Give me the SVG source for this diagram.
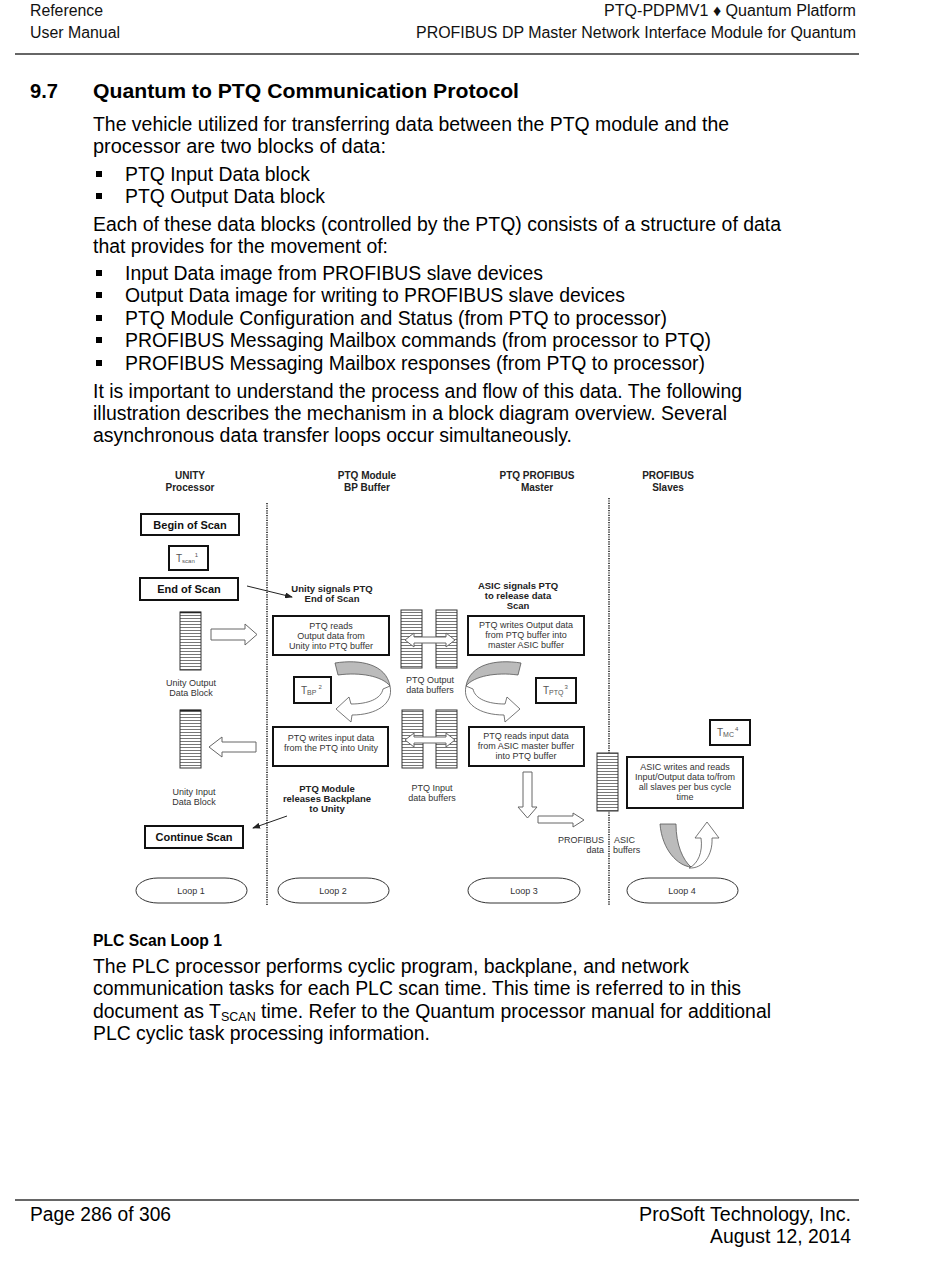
<svg xmlns="http://www.w3.org/2000/svg" width="950" height="1267" viewBox="0 0 950 1267">
<style>
.pg{font-family:"Liberation Sans",Arial,sans-serif;fill:#000}
.hd{font-family:"Liberation Sans",Arial,sans-serif;font-size:16px;fill:#111}
.body{font-family:"Liberation Sans",Arial,sans-serif;font-size:19.4px;fill:#000}
.dh{font-family:"Liberation Sans",Arial,sans-serif;font-size:10px;font-weight:bold;fill:#222;text-anchor:middle}
.bl{font-family:"Liberation Sans",Arial,sans-serif;font-size:9.5px;font-weight:bold;fill:#222;text-anchor:middle}
.bx{font-family:"Liberation Sans",Arial,sans-serif;font-size:9px;fill:#333;text-anchor:middle}
.sb{font-family:"Liberation Sans",Arial,sans-serif;font-size:11px;font-weight:bold;fill:#111;text-anchor:middle}
.tt{font-family:"Liberation Sans",Arial,sans-serif;font-size:10px;fill:#555}
.box{fill:#fff;stroke:#111;stroke-width:2}
.buf{fill:url(#stripes);stroke:#333;stroke-width:1}
.dot{stroke:#222;stroke-width:1.6;stroke-dasharray:1.2 1.2;fill:none}
.hol{fill:#fff;stroke:#666;stroke-width:1}
.loop{fill:#fff;stroke:#333;stroke-width:1}
.thin{stroke:#222;stroke-width:1;fill:none;marker-end:url(#ah)}
.rule{stroke:#333;stroke-width:1.5}
</style>
<defs>
<pattern id="stripes" width="10" height="3" patternUnits="userSpaceOnUse">
<rect width="10" height="3" fill="#fff"/>
<line x1="0" y1="0.5" x2="10" y2="0.5" stroke="#777" stroke-width="1"/>
</pattern>
<marker id="ah" markerWidth="8" markerHeight="6" refX="7" refY="3" orient="auto" markerUnits="userSpaceOnUse">
<path d="M0,0 L8,3 L0,6 Z" fill="#222"/>
</marker>
<g id="curl">
<path d="M335,663 C360,659 386,664 390,686 C382,676 360,672 338,675 Z" fill="#bbb" stroke="#555" stroke-width="0.8"/>
<path d="M390,686 C394,704 376,715 352,715 L351,722 L336,709 L349,697 L351,704 C368,704 381,699 383,689 Z" fill="#fff" stroke="#555" stroke-width="0.8"/>
</g>
</defs>

<!-- page header -->
<g id="header">
<text class="hd" x="30" y="16" textLength="73" lengthAdjust="spacingAndGlyphs">Reference</text>
<text class="hd" x="30" y="38" textLength="90" lengthAdjust="spacingAndGlyphs">User Manual</text>
<text class="hd" x="856" y="16" text-anchor="end" textLength="252" lengthAdjust="spacingAndGlyphs">PTQ-PDPMV1 ♦ Quantum Platform</text>
<text class="hd" x="856" y="38" text-anchor="end" textLength="440" lengthAdjust="spacingAndGlyphs">PROFIBUS DP Master Network Interface Module for Quantum</text>
<line class="rule" x1="15" y1="54" x2="859" y2="54"/>
</g>

<g id="intro">
<text class="pg" x="30" y="98" font-size="21" font-weight="bold" textLength="28" lengthAdjust="spacingAndGlyphs">9.7</text>
<text class="pg" x="93" y="98" font-size="21" font-weight="bold" textLength="426" lengthAdjust="spacingAndGlyphs">Quantum to PTQ Communication Protocol</text>
<text class="body" x="93" y="131" textLength="636" lengthAdjust="spacingAndGlyphs">The vehicle utilized for transferring data between the PTQ module and the</text>
<text class="body" x="93" y="153" textLength="293" lengthAdjust="spacingAndGlyphs">processor are two blocks of data:</text>
<rect x="96" y="171" width="6" height="6" fill="#000"/>
<text class="body" x="125" y="181" textLength="185" lengthAdjust="spacingAndGlyphs">PTQ Input Data block</text>
<rect x="96" y="193" width="6" height="6" fill="#000"/>
<text class="body" x="125" y="203" textLength="200" lengthAdjust="spacingAndGlyphs">PTQ Output Data block</text>
<text class="body" x="93" y="231" textLength="688" lengthAdjust="spacingAndGlyphs">Each of these data blocks (controlled by the PTQ) consists of a structure of data</text>
<text class="body" x="93" y="253" textLength="295" lengthAdjust="spacingAndGlyphs">that provides for the movement of:</text>
<rect x="96" y="270" width="6" height="6" fill="#000"/>
<text class="body" x="125" y="280" textLength="418" lengthAdjust="spacingAndGlyphs">Input Data image from PROFIBUS slave devices</text>
<rect x="96" y="292" width="6" height="6" fill="#000"/>
<text class="body" x="125" y="302" textLength="500" lengthAdjust="spacingAndGlyphs">Output Data image for writing to PROFIBUS slave devices</text>
<rect x="96" y="315" width="6" height="6" fill="#000"/>
<text class="body" x="125" y="325" textLength="542" lengthAdjust="spacingAndGlyphs">PTQ Module Configuration and Status (from PTQ to processor)</text>
<rect x="96" y="337" width="6" height="6" fill="#000"/>
<text class="body" x="125" y="347" textLength="586" lengthAdjust="spacingAndGlyphs">PROFIBUS Messaging Mailbox commands (from processor to PTQ)</text>
<rect x="96" y="360" width="6" height="6" fill="#000"/>
<text class="body" x="125" y="370" textLength="580" lengthAdjust="spacingAndGlyphs">PROFIBUS Messaging Mailbox responses (from PTQ to processor)</text>
<text class="body" x="93" y="398" textLength="649" lengthAdjust="spacingAndGlyphs">It is important to understand the process and flow of this data. The following</text>
<text class="body" x="93" y="420" textLength="634" lengthAdjust="spacingAndGlyphs">illustration describes the mechanism in a block diagram overview. Several</text>
<text class="body" x="93" y="442" textLength="479" lengthAdjust="spacingAndGlyphs">asynchronous data transfer loops occur simultaneously.</text>
</g>

<!-- diagram column headers and separators -->
<g id="columns">
<text class="dh" x="190" y="479">UNITY</text>
<text class="dh" x="190" y="491">Processor</text>
<text class="dh" x="367" y="479">PTQ Module</text>
<text class="dh" x="367" y="491">BP Buffer</text>
<text class="dh" x="537" y="479">PTQ PROFIBUS</text>
<text class="dh" x="537" y="491">Master</text>
<text class="dh" x="668" y="479">PROFIBUS</text>
<text class="dh" x="668" y="491">Slaves</text>
<line class="dot" x1="267" y1="503" x2="267" y2="905"/>
<line class="dot" x1="609" y1="498" x2="609" y2="905"/>
</g>

<!-- Loop 1 -->
<g id="begin-scan"><rect class="box" x="141" y="514" width="98" height="21"/><text class="sb" x="190" y="529">Begin of Scan</text></g>
<g id="tscan"><rect class="box" x="169" y="546" width="39" height="24"/><text class="tt" x="176" y="562">T<tspan font-size="6" dy="1">scan</tspan><tspan font-size="6" dy="-6">1</tspan></text></g>
<g id="end-scan"><rect class="box" x="140" y="578" width="98" height="22"/><text class="sb" x="189" y="593">End of Scan</text></g>
<g id="unity-output"><rect class="buf" x="180" y="612" width="21" height="58"/><line x1="180" y1="612.5" x2="201" y2="612.5" stroke="#222" stroke-width="1.5"/>
<text class="bx" x="191" y="686">Unity Output</text><text class="bx" x="191" y="696">Data Block</text></g>
<g id="unity-input"><rect class="buf" x="180" y="710" width="21" height="58"/><line x1="180" y1="710.5" x2="201" y2="710.5" stroke="#222" stroke-width="1.5"/>
<text class="bx" x="194" y="795">Unity Input</text><text class="bx" x="194" y="805">Data Block</text></g>
<g id="continue-scan"><rect class="box" x="145" y="826" width="98" height="22"/><text class="sb" x="194" y="841">Continue Scan</text></g>
<g id="loop1"><rect class="loop" x="136" y="878" width="111" height="25" rx="22" ry="12.5"/><text class="bx" x="191" y="894">Loop 1</text></g>

<!-- Loop 2 -->
<g id="unity-signals"><text class="bl" x="332" y="592">Unity signals PTQ</text><text class="bl" x="332" y="602">End of Scan</text></g>
<g id="ptq-reads"><rect class="box" x="273" y="616" width="116" height="39"/>
<text class="bx" x="331" y="629">PTQ reads</text><text class="bx" x="331" y="639">Output data from</text><text class="bx" x="331" y="649">Unity into PTQ buffer</text></g>
<g id="tbp"><rect class="box" x="294" y="677" width="37" height="26"/><text class="tt" x="301" y="694">T<tspan font-size="7" dy="1">BP</tspan><tspan font-size="6" dx="2" dy="-6">2</tspan></text></g>
<g id="ptq-writes-input"><rect class="box" x="273" y="727" width="115" height="39"/>
<text class="bx" x="331" y="741">PTQ writes input data</text><text class="bx" x="331" y="751">from the PTQ into Unity</text></g>
<g id="ptq-releases"><text class="bl" x="327" y="792">PTQ Module</text><text class="bl" x="327" y="802">releases Backplane</text><text class="bl" x="327" y="812">to Unity</text></g>
<g id="loop2"><rect class="loop" x="278" y="878" width="111" height="25" rx="22" ry="12.5"/><text class="bx" x="333" y="894">Loop 2</text></g>

<!-- PTQ buffers -->
<g id="ptq-output-buffers"><rect class="buf" x="401" y="610" width="21" height="58"/><rect class="buf" x="436" y="610" width="21" height="58"/>
<text class="bx" x="430" y="683">PTQ Output</text><text class="bx" x="430" y="693">data buffers</text></g>
<g id="ptq-input-buffers"><rect class="buf" x="402" y="710" width="21" height="58"/><rect class="buf" x="436" y="710" width="21" height="58"/>
<text class="bx" x="432" y="791">PTQ Input</text><text class="bx" x="432" y="801">data buffers</text></g>

<!-- Loop 3 -->
<g id="asic-signals"><text class="bl" x="518" y="589">ASIC signals PTQ</text><text class="bl" x="518" y="599">to release data</text><text class="bl" x="518" y="609">Scan</text></g>
<g id="ptq-writes-output"><rect class="box" x="468" y="616" width="116" height="39"/>
<text class="bx" x="526" y="628">PTQ writes Output data</text><text class="bx" x="526" y="638">from PTQ buffer into</text><text class="bx" x="526" y="648">master ASIC buffer</text></g>
<g id="tptq"><rect class="box" x="536" y="678" width="40" height="25"/><text class="tt" x="543" y="694">T<tspan font-size="7" dy="1">PTQ</tspan><tspan font-size="6" dx="1" dy="-6">3</tspan></text></g>
<g id="ptq-reads-input"><rect class="box" x="469" y="727" width="115" height="39"/>
<text class="bx" x="526" y="739">PTQ reads input data</text><text class="bx" x="526" y="749">from ASIC master buffer</text><text class="bx" x="526" y="759">into PTQ buffer</text></g>
<g id="loop3"><rect class="loop" x="468" y="878" width="112" height="25" rx="22" ry="12.5"/><text class="bx" x="524" y="894">Loop 3</text></g>

<!-- ASIC buffers / Loop 4 -->
<g id="asic-buffer"><rect class="buf" x="597" y="753" width="21" height="58"/>
<text class="bx" x="604" y="843" style="text-anchor:end">PROFIBUS</text><text class="bx" x="614" y="843" style="text-anchor:start">ASIC</text>
<text class="bx" x="604" y="853" style="text-anchor:end">data</text><text class="bx" x="613" y="853" style="text-anchor:start">buffers</text></g>
<g id="tmc"><rect class="box" x="710" y="720" width="40" height="25"/><text class="tt" x="717" y="736">T<tspan font-size="7" dy="1">MC</tspan><tspan font-size="6" dx="1" dy="-6">4</tspan></text></g>
<g id="asic-writes"><rect class="box" x="627" y="757" width="116" height="51"/>
<text class="bx" x="685" y="770">ASIC writes and reads</text><text class="bx" x="685" y="780">Input/Output data to/from</text><text class="bx" x="685" y="790">all slaves per bus cycle</text><text class="bx" x="685" y="800">time</text></g>
<g id="loop4"><rect class="loop" x="627" y="878" width="111" height="25" rx="22" ry="12.5"/><text class="bx" x="682" y="894">Loop 4</text></g>

<!-- connectors -->
<g id="connectors">
<line class="thin" x1="247" y1="586" x2="292" y2="597"/>
<line class="thin" x1="287" y1="816" x2="253" y2="828"/>
<path class="hol" d="M211,629 L245,629 L245,624 L257,634.5 L245,645 L245,640 L211,640 Z"/>
<path class="hol" d="M256,742 L222,742 L222,737 L209,747 L222,757 L222,752 L256,752 Z"/>
<path class="hol" d="M405,640 L414,633 L414,637 L446,637 L446,633 L455,640 L446,647 L446,643 L414,643 L414,647 Z"/>
<path class="hol" d="M405,740 L414,733 L414,737 L446,737 L446,733 L455,740 L446,747 L446,743 L414,743 L414,747 Z"/>
<path class="hol" d="M523,772 L532,772 L532,807 L537,807 L527.5,818 L518,807 L523,807 Z"/>
<path class="hol" d="M538,816 L573,816 L573,813 L584,820 L573,827 L573,823 L538,823 Z"/>
<use href="#curl"/>
<use href="#curl" transform="translate(856,0) scale(-1,1)"/>
<path d="M660,824 L676,824 C676,845 683,860 691,867 C678,866 662,850 660,824 Z" fill="#bbb" stroke="#555" stroke-width="0.8"/>
<path d="M689,868 C698,864 703,852 701,838 L695,838 L707,822 L719,838 L712,838 C713,855 703,869 689,868 Z" fill="#fff" stroke="#555" stroke-width="0.8"/>
</g>

<!-- lower text -->
<g id="section">
<text class="pg" x="93" y="946" font-size="17" font-weight="bold" textLength="129" lengthAdjust="spacingAndGlyphs">PLC Scan Loop 1</text>
<text class="body" x="93" y="973" textLength="596" lengthAdjust="spacingAndGlyphs">The PLC processor performs cyclic program, backplane, and network</text>
<text class="body" x="93" y="995" textLength="648" lengthAdjust="spacingAndGlyphs">communication tasks for each PLC scan time. This time is referred to in this</text>
<text class="body" x="93" y="1018" textLength="678" lengthAdjust="spacingAndGlyphs">document as T<tspan font-size="12.5" dy="3">SCAN</tspan><tspan dy="-3"> time. Refer to the Quantum processor manual for additional</tspan></text>
<text class="body" x="93" y="1040" textLength="337" lengthAdjust="spacingAndGlyphs">PLC cyclic task processing information.</text>
</g>

<g id="footer">
<line class="rule" x1="15" y1="1200" x2="859" y2="1200"/>
<text class="body" x="30" y="1221" textLength="141" lengthAdjust="spacingAndGlyphs">Page 286 of 306</text>
<text class="body" x="851" y="1221" text-anchor="end" textLength="212" lengthAdjust="spacingAndGlyphs">ProSoft Technology, Inc.</text>
<text class="body" x="851" y="1243" text-anchor="end" textLength="141" lengthAdjust="spacingAndGlyphs">August 12, 2014</text>
</g>
</svg>
